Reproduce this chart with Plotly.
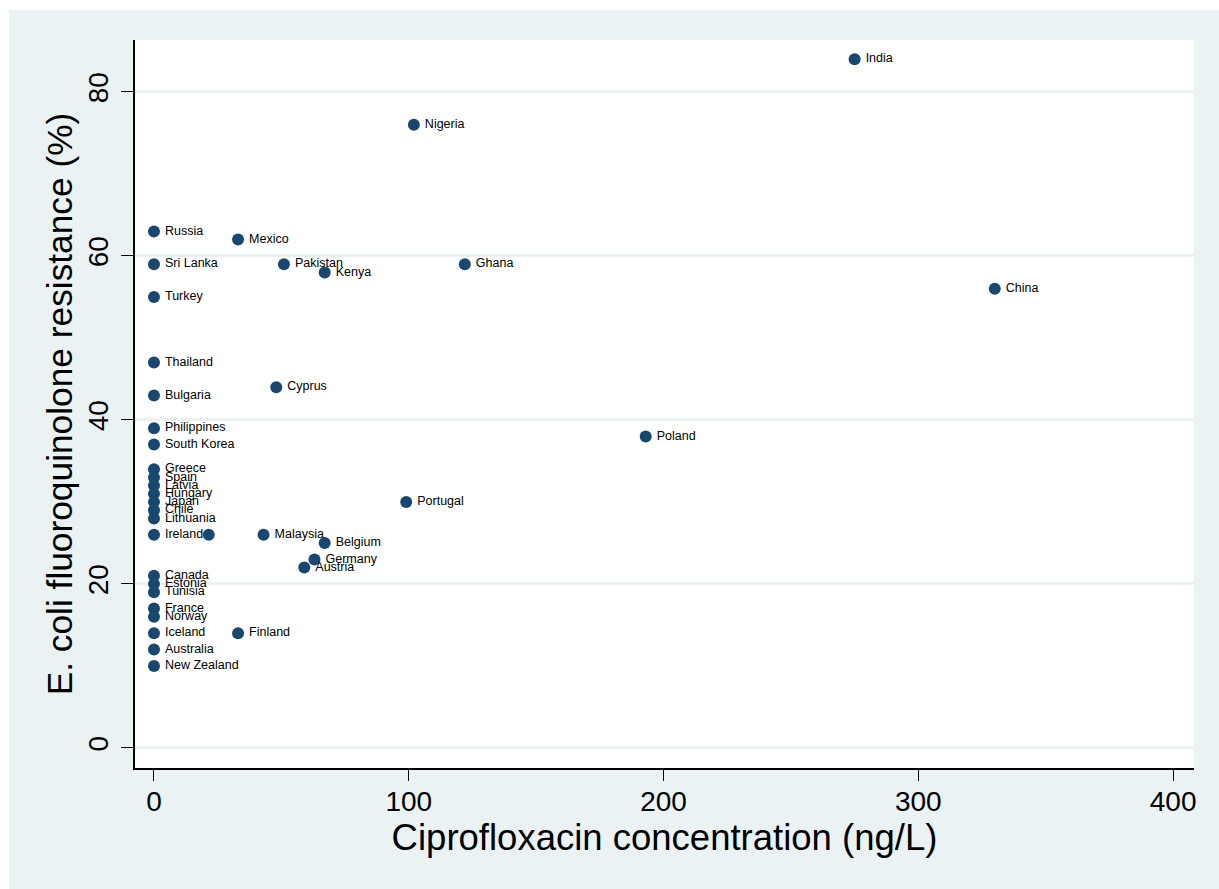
import plotly.graph_objects as go

countries = ["India", "Nigeria", "Russia", "Mexico", "Sri Lanka", "Pakistan", "Kenya", "Ghana",
             "China", "Turkey", "Thailand", "Bulgaria", "Cyprus", "Philippines", "South Korea",
             "Poland", "Greece", "Spain", "Latvia", "Hungary", "Japan", "Chile", "Lithuania",
             "Portugal", "Ireland", "", "Malaysia", "Belgium", "Germany", "Austria", "Canada",
             "Estonia", "Tunisia", "France", "Norway", "Iceland", "Finland", "Australia", "New Zealand"]
cipro = [275, 102, 0, 33, 0, 51, 67, 122,
         330, 0, 0, 0, 48, 0, 0,
         193, 0, 0, 0, 0, 0, 0, 0,
         99, 0, 21.5, 43, 67, 63, 59, 0,
         0, 0, 0, 0, 0, 33, 0, 0]
resistance = [84, 76, 63, 62, 59, 59, 58, 59,
              56, 55, 47, 43, 44, 39, 37,
              38, 34, 33, 32, 31, 30, 29, 28,
              30, 26, 26, 26, 25, 23, 22, 21,
              20, 19, 17, 16, 14, 14, 12, 10]

x_ticks = [0, 100, 200, 300, 400]
y_ticks = [0, 20, 40, 60, 80]

BG = "#eaf2f3"
NAVY = "#1a476f"
FONT = "Liberation Sans, Arial, Helvetica, sans-serif"

fig = go.Figure()
fig.add_trace(go.Scatter(
    x=cipro, y=resistance, text=countries, mode="markers+text",
    textposition="middle right",
    texttemplate="\u2009%{text}",
    marker=dict(color=NAVY, size=12, line=dict(width=0)),
    textfont=dict(family=FONT, size=12.5, color="black"),
    hoverinfo="x+y+text", showlegend=False,
))

W, H = 1219, 889
ml, mr, mt, mb = 135, 25, 40, 121
pw, ph = W - ml - mr, H - mt - mb

def px2paper_x(px):
    return (px - ml) / pw

def px2paper_y(py):
    return (H - mb - py) / ph

fig.update_layout(
    width=W, height=H,
    margin=dict(l=ml, r=mr, t=mt, b=mb, pad=0),
    paper_bgcolor="white",
    plot_bgcolor="white",
    font=dict(family=FONT, color="black"),
    shapes=[
        dict(type="rect", xref="paper", yref="paper", layer="below",
             x0=px2paper_x(9), x1=px2paper_x(W + 2), y0=px2paper_y(H + 2), y1=px2paper_y(10),
             fillcolor=BG, line=dict(width=0)),
        dict(type="rect", xref="paper", yref="paper", layer="below",
             x0=0, x1=1, y0=0, y1=1, fillcolor="white", line=dict(width=0)),
    ],
    xaxis=dict(
        range=[-7.45, 408.2], tickvals=x_ticks, ticktext=[str(v) for v in x_ticks],
        showgrid=False, zeroline=False,
        showline=True, linecolor="black", linewidth=1.5,
        ticks="outside", ticklen=11, tickwidth=1.3, tickcolor="black",
        tickfont=dict(size=28, family=FONT), ticklabelstandoff=-3,
        title=dict(text="Ciprofloxacin concentration (ng/L)", font=dict(size=36.5, family=FONT), standoff=6),
    ),
    yaxis=dict(
        range=[-2.44, 86.34], tickvals=y_ticks, ticktext=[str(v) for v in y_ticks],
        showgrid=True, gridcolor=BG, gridwidth=3, zeroline=False,
        showline=True, linecolor="black", linewidth=1.5,
        ticks="outside", ticklen=12, tickwidth=1.3, tickcolor="black",
        tickangle=-90,
        tickfont=dict(size=28, family=FONT), ticklabelstandoff=2,
        title=dict(text="E. coli fluoroquinolone resistance (%)", font=dict(size=35.3, family=FONT), standoff=0),
    ),
)

fig.write_html("out.html", config={"displayModeBar": False},
               post_script="document.body.style.margin='0px';")
